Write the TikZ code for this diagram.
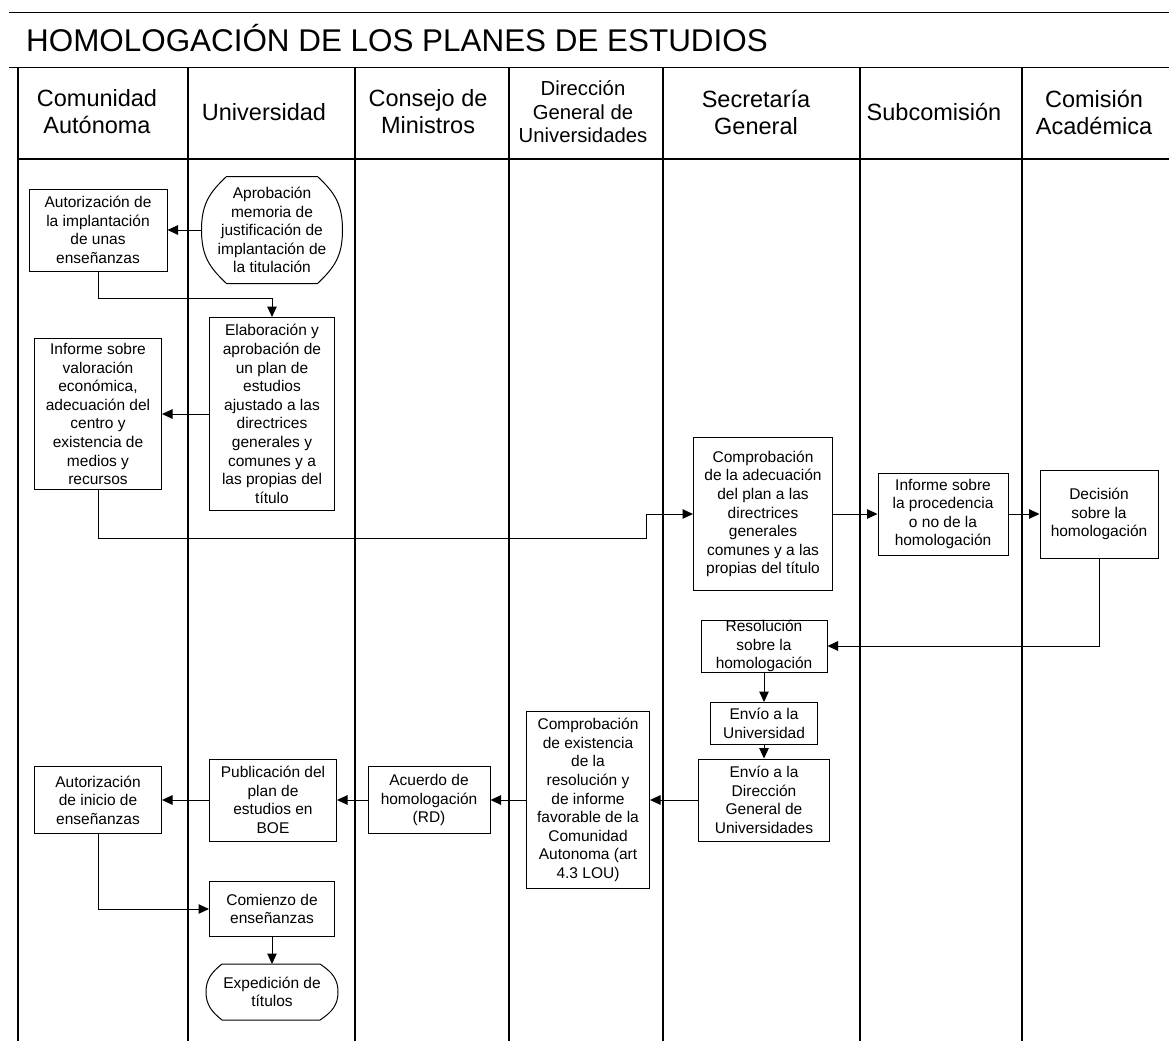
\documentclass[tikz,border=0pt]{standalone}
\usepackage{fontspec}
\setmainfont{Liberation Sans}
\usetikzlibrary{arrows.meta}
\usetikzlibrary{calc}

\tikzset{
  lane/.style={line width=1.4pt},
  rule/.style={line width=0.9pt},
  hdr/.style={align=center, inner sep=0pt, font=\fontsize{23.5}{27}\selectfont},
  hdrsmall/.style={align=center, inner sep=0pt, font=\fontsize{20.3}{23.5}\selectfont},
  task/.style={draw, line width=1pt, fill=white, align=center, inner sep=0pt,
    font=\fontsize{15.5}{18.6}\selectfont},
  term/.style={task, draw=none, fill=none},
  termline/.style={line width=1pt},
  flow/.style={line width=1pt, -{Triangle[length=10.5pt,width=9.5pt]}},
}

\begin{document}
\begin{tikzpicture}[x=1pt, y=-1pt]
  \useasboundingbox (0,0) rectangle (1169,1041);
  \def\hdrY{112}

  % Frame: lines
  \draw [rule] (9,12) -- (1169,12);
  \draw [rule] (9,67) -- (1169,67);
  \draw [lane] (18,159) -- (1169,159);
  \draw [lane] (18,67) -- (18,1041);
  \draw [lane] (188,67) -- (188,1041);
  \draw [lane] (355,67) -- (355,1041);
  \draw [lane] (509,67) -- (509,1041);
  \draw [lane] (663,67) -- (663,1041);
  \draw [lane] (860,67) -- (860,1041);
  \draw [lane] (1022,67) -- (1022,1041);

  % Frame: title and lane names
  \node (title) [anchor=base west, inner sep=0pt, font=\fontsize{31.4}{37}\selectfont]
    at (26,52) {HOMOLOGACIÓN DE LOS PLANES DE ESTUDIOS};
  \node (hCA) [hdr] at (97,\hdrY) {Comunidad\\Autónoma};
  \node (hUni) [hdr] at (264,\hdrY) {Universidad};
  \node (hCM) [hdr] at (428,\hdrY) {Consejo de\\Ministros};
  \node (hDGU) [hdrsmall] at (583,\hdrY) {Dirección\\General de\\Universidades};
  \node (hSG) [hdr] at (756,\hdrY) {Secretaría\\General};
  \node (hSub) [hdr] at (934,\hdrY) {Subcomisión};
  \node (hCAc) [hdr] at (1094,\hdrY) {Comisión\\Académica};

  % Implantation: nodes
  \node (autImpl) [task, minimum width=138pt, minimum height=82pt] at (98,230) %
  {Autorización de\\la implantación\\de unas\\enseñanzas};
  \node (aprob) [term, minimum width=140pt, minimum height=106pt] at (272,230) %
  {Aprobación\\memoria de\\justificación de\\implantación de\\la titulación};
  \draw [termline] ($(aprob.north west)+(25,0)$) -- ($(aprob.north east)+(-25,0)$)
    .. controls ($(aprob.north east)+(-8,16)$) and ($(aprob.east)+(0,-26)$) .. (aprob.east)
    .. controls ($(aprob.east)+(0,26)$) and ($(aprob.south east)+(-8,-16)$) .. ($(aprob.south east)+(-25,0)$)
    -- ($(aprob.south west)+(25,0)$)
    .. controls ($(aprob.south west)+(8,-16)$) and ($(aprob.west)+(0,26)$) .. (aprob.west)
    .. controls ($(aprob.west)+(0,-26)$) and ($(aprob.north west)+(8,16)$) .. cycle;
  \node (elab) [task, minimum width=125pt, minimum height=193pt] at (272,414) %
  {Elaboración y\\aprobación de\\un plan de\\estudios\\ajustado a las\\directrices\\generales y\\comunes y a\\las propias del\\título};
  \node (infVal) [task, minimum width=127pt, minimum height=151pt] at (98,414) %
  {Informe sobre\\valoración\\económica,\\adecuación del\\centro y\\existencia de\\medios y\\recursos};

  % Homologation: nodes
  \node (compAdec) [task, minimum width=139pt, minimum height=153pt] at (763,514) %
  {Comprobación\\de la adecuación\\del plan a las\\directrices\\generales\\comunes y a las\\propias del título};
  \node (infProc) [task, minimum width=130pt, minimum height=82pt] at (943,514) %
  {Informe sobre\\la procedencia\\o no de la\\homologación};
  \node (decision) [task, minimum width=118pt, minimum height=88pt] at (1099,514) %
  {Decisión\\sobre la\\homologación};
  \node (resol) [task, minimum width=126pt, minimum height=52pt] at (764,646) %
  {Resolución\\sobre la\\homologación};
  \node (envUni) [task, minimum width=107pt, minimum height=42pt] at (764,723.5) %
  {Envío a la\\Universidad};
  \node (envDGU) [task, minimum width=131pt, minimum height=82pt] at (764,800) %
  {Envío a la\\Dirección\\General de\\Universidades};

  % Publication: nodes
  \node (compExist) [task, minimum width=123pt, minimum height=177pt] at (588,800) %
  {Comprobación\\de existencia\\de la\\resolución y\\de informe\\favorable de la\\Comunidad\\Autonoma (art\\4.3 LOU)};
  \node (acuerdo) [task, minimum width=122pt, minimum height=67pt] at (429,800) %
  {Acuerdo de\\homologación\\(RD)};
  \node (publ) [task, minimum width=127pt, minimum height=82pt] at (273,800) %
  {Publicación del\\plan de\\estudios en\\BOE};
  \node (autIni) [task, minimum width=127pt, minimum height=67pt] at (98,800) %
  {Autorización\\de inicio de\\enseñanzas};
  \node (comienzo) [task, minimum width=125pt, minimum height=55pt] at (272,909) %
  {Comienzo de\\enseñanzas};
  \node (expedicion) [term, minimum width=131pt, minimum height=55pt] at (272,992) %
  {Expedición de\\títulos};
  \draw [termline] ($(expedicion.north west)+(16,0)$) -- ($(expedicion.north east)+(-18,0)$)
    .. controls ($(expedicion.north east)+(-6,8)$) and ($(expedicion.east)+(0,-13)$) .. (expedicion.east)
    .. controls ($(expedicion.east)+(0,13)$) and ($(expedicion.south east)+(-6,-8)$) .. ($(expedicion.south east)+(-18,0)$)
    -- ($(expedicion.south west)+(16,0)$)
    .. controls ($(expedicion.south west)+(6,-8)$) and ($(expedicion.west)+(0,13)$) .. (expedicion.west)
    .. controls ($(expedicion.west)+(0,-13)$) and ($(expedicion.north west)+(6,8)$) .. cycle;
  \coordinate (bend) at (646,538);

  % Implantation: connections
  \draw [flow] (aprob) -- (autImpl);
  \draw [flow] (autImpl.south) -- ++(0,27) -| (elab.north);
  \draw [flow] (elab) -- (infVal);
  \draw [flow] (infVal.south) |- (bend) |- (compAdec.west);

  % Homologation: connections
  \draw [flow] (compAdec) -- (infProc);
  \draw [flow] (infProc) -- (decision);
  \draw [flow] (decision.south) |- (resol.east);
  \draw [flow] (resol) -- (envUni);
  \draw [flow] (envUni) -- (envDGU);

  % Publication: connections
  \draw [flow] (envDGU) -- (compExist);
  \draw [flow] (compExist) -- (acuerdo);
  \draw [flow] (acuerdo) -- (publ);
  \draw [flow] (publ) -- (autIni);
  \draw [flow] (autIni.south) |- (comienzo.west);
  \draw [flow] (comienzo) -- (expedicion);
\end{tikzpicture}
\end{document}
